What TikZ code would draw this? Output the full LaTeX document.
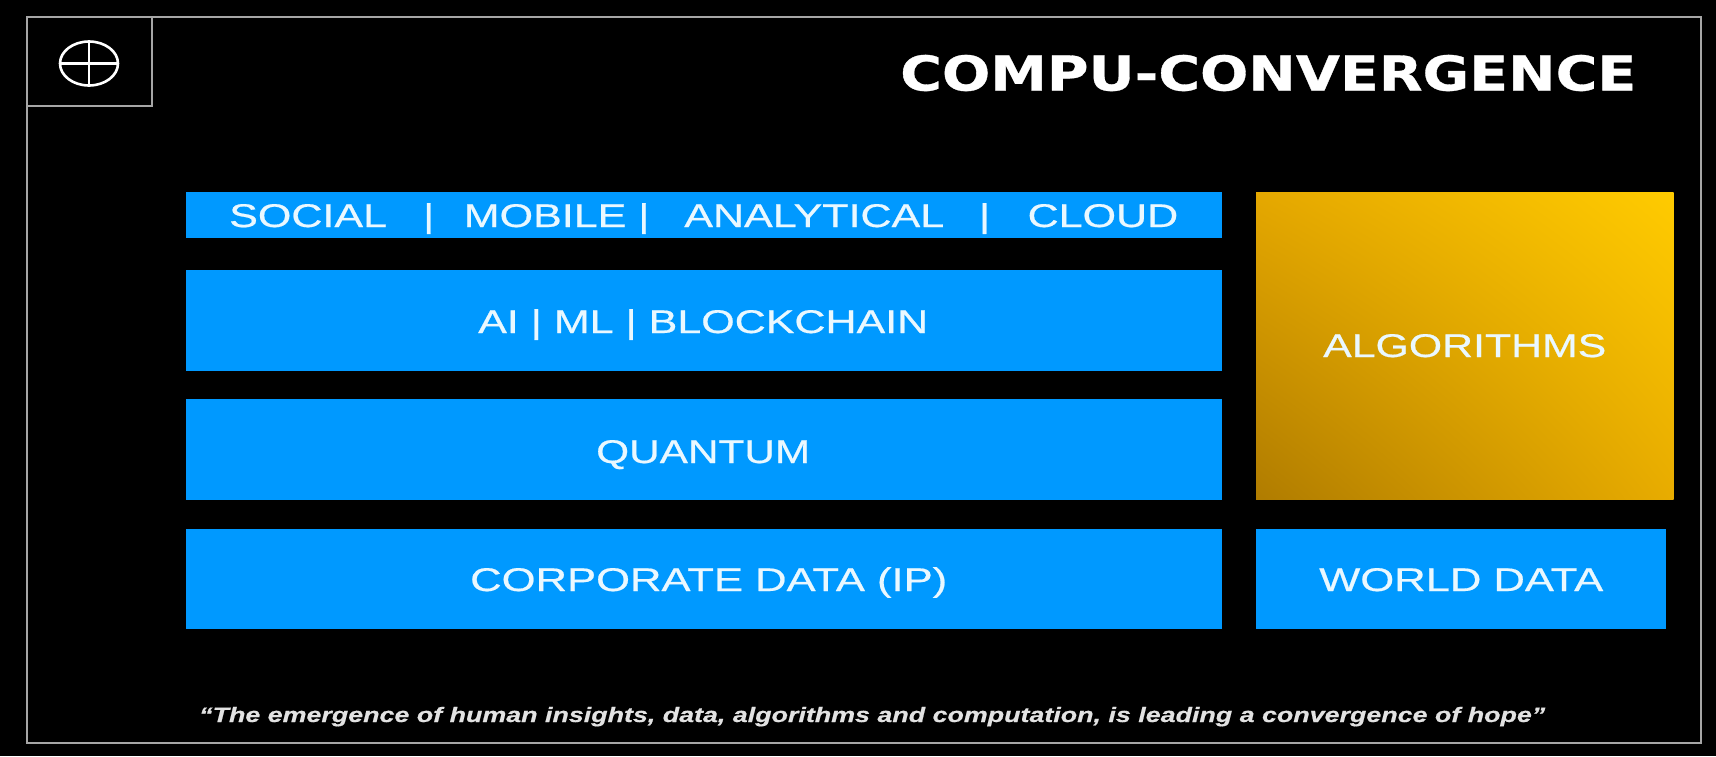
\documentclass[tikz,border=0pt]{standalone}
\usepackage{graphicx}
\usepackage{fontspec}
\setmainfont{Liberation Sans}
\newfontfamily\titlefont[FakeBold=0.6]{DejaVu Sans Bold}
\newfontfamily\labelfont[FakeBold=0.5]{Liberation Sans}
\newfontfamily\quotefont[FakeBold=0.5]{Liberation Sans Bold Italic}
\usetikzlibrary{shapes.geometric,shadings}
\definecolor{barblue}{HTML}{0099FF}
\definecolor{framegrey}{HTML}{A6A6A6}
\definecolor{labeltext}{HTML}{EAF8FF}
\definecolor{quotetext}{HTML}{E2E2E2}
\definecolor{goldll}{HTML}{B07C00}
\definecolor{goldur}{HTML}{FFCB00}
\definecolor{goldul}{HTML}{E5A800}
\definecolor{goldlr}{HTML}{E8AC00}
% scale a text to a given width and cap height (#1 = cap height in em)
\newcommand{\fitcap}[4]{\resizebox{#2pt}{#3pt}{\raisebox{0pt}[#1em][0pt]{#4}}}
\tikzset{
  bluebox/.style={rectangle,fill=barblue,draw=none,inner sep=0pt,anchor=north west},
  barlabel/.style={anchor=base west,inner sep=0pt,text=labeltext,font=\labelfont\fontsize{32}{36}\selectfont},
  framing/.style={draw=framegrey,line width=2pt},
  iconline/.style={draw=white,line width=2.6pt},
}
\newcommand{\capA}{0.716}
\begin{document}
\begin{tikzpicture}[x=1pt,y=-1pt]
\useasboundingbox (0,0) rectangle (1716,756);
\fill[black] (0,0) rectangle (1716,756);
% frame
\coordinate (f1) at (27,17);
\coordinate (f2) at (1701,743);
\coordinate (i2) at (152,106);
\draw[framing] (f1) rectangle (f2);
\draw[framing] (f1) rectangle (i2);
% icon
\node[ellipse,iconline,minimum width=58pt,minimum height=44pt,inner sep=0pt] (icon) at (89,63.5) {};
\draw[iconline] (icon.west) -- (icon.east);
\draw[iconline] (icon.north) -- (icon.south);
% title
\node[anchor=base west,inner sep=0pt,text=white,font=\titlefont\fontsize{50}{54}\selectfont] (title) at (900,90.5)
  {\fitcap{0.729}{736}{35}{COMPU-CONVERGENCE}};
% bars
\node[bluebox,minimum width=1036pt,minimum height=46pt] (b1) at (186,192) {};
\node[bluebox,minimum width=1036pt,minimum height=101pt] (b2) at (186,270) {};
\node[bluebox,minimum width=1036pt,minimum height=101pt] (b3) at (186,399) {};
\node[bluebox,minimum width=1036pt,minimum height=100pt] (b4) at (186,528.5) {};
\node[bluebox,minimum width=410pt,minimum height=100pt] (b5) at (1256,528.5) {};
% algorithms box
\shade[shading=bilinear interpolation,lower left=goldll,upper right=goldur,upper left=goldul,lower right=goldlr]
  (1256,192) rectangle (1673.5,499);
% labels
\node[barlabel] (l1) at (229,227) {\fitcap{\capA}{949}{23.5}{SOCIAL \hspace{18pt}| \hspace{13pt}MOBILE \hspace{0pt}| \hspace{17pt}ANALYTICAL \hspace{17pt}| \hspace{19pt}CLOUD}};
\node[barlabel] (l2) at (478,333) {\fitcap{\capA}{450}{23.5}{AI | ML | BLOCKCHAIN}};
\node[barlabel] (l3) at (596,463) {\fitcap{\capA}{214}{23.5}{QUANTUM}};
\node[barlabel] (l4) at (470,591) {\fitcap{\capA}{477}{23.5}{CORPORATE DATA (IP)}};
\node[barlabel] (l5) at (1319,591) {\fitcap{\capA}{284}{23.5}{WORLD DATA}};
\node[barlabel] (l6) at (1323,357) {\fitcap{\capA}{283}{23.5}{ALGORITHMS}};
% quote
\node[anchor=base west,inner sep=0pt,text=quotetext,font=\quotefont\fontsize{21}{24}\selectfont] (quote) at (199,722)
  {\fitcap{\capA}{1346}{15}{“The emergence of human insights, data, algorithms and computation, is leading a convergence of hope”}};
\end{tikzpicture}
\end{document}
